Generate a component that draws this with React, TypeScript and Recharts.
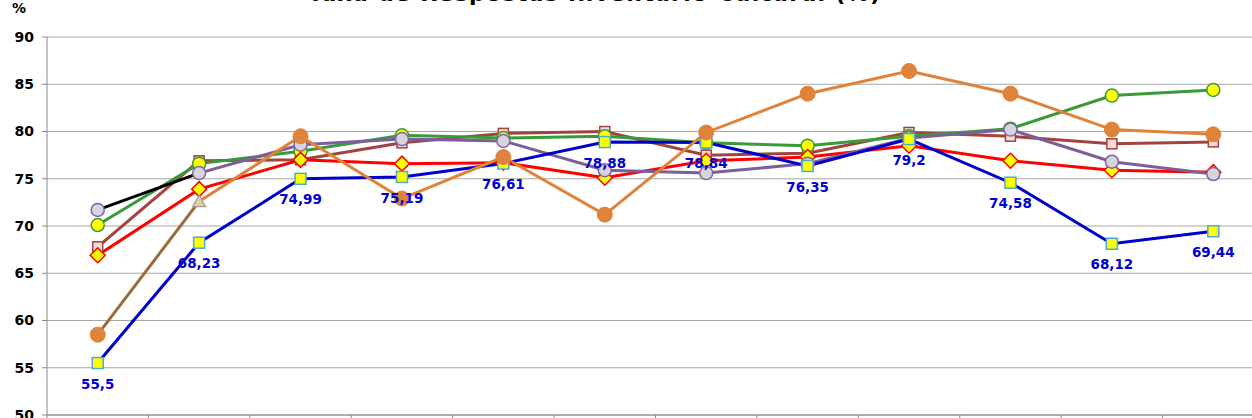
import React from 'react';
import { LineChart, Line, XAxis, YAxis, CartesianGrid, LabelList } from 'recharts';

const categories = ['Jan', 'Fev', 'Mar', 'Abr', 'Mai', 'Jun', 'Jul', 'Ago', 'Set', 'Out', 'Nov', 'Dez'];
const blueValues = [55.5, 68.23, 74.99, 75.19, 76.61, 78.88, 78.84, 76.35, 79.2, 74.58, 68.12, 69.44];
const redValues = [66.9, 73.9, 77.0, 76.6, 76.7, 75.1, 76.9, 77.3, 78.5, 76.9, 75.9, 75.7];
const greenValues = [70.1, 76.6, 77.9, 79.6, 79.3, 79.5, 78.8, 78.5, 79.5, 80.3, 83.8, 84.4];
const brownValues = [67.8, 76.9, 77.0, 78.8, 79.8, 80.0, 77.5, 77.7, 79.9, 79.5, 78.7, 78.9];
const purpleValues = [71.7, 75.6, 78.6, 79.2, 79.0, 75.9, 75.6, 76.6, 79.3, 80.2, 76.8, 75.5];
const orangeValues = [58.5, 72.6, 79.5, 72.9, 77.3, 71.2, 79.9, 84.0, 86.4, 84.0, 80.2, 79.7];
const yTicks = [50, 55, 60, 65, 70, 75, 80, 85, 90];
const titleText = 'Taxa de Respostas Inventário Cultural (%)';
const unitLabel = '%';

const data = categories.map((cat, i) => ({
  x: i,
  cat,
  blue: blueValues[i],
  red: redValues[i],
  green: greenValues[i],
  brown: brownValues[i],
  purple: i === 0 ? null : purpleValues[i],
  purpleLead: i <= 1 ? purpleValues[i] : null,
  orange: i === 0 ? null : orangeValues[i],
  orangeLead: i <= 1 ? orangeValues[i] : null,
}));

const boundaryTicks = categories.map((_, i) => i - 0.5).concat([categories.length - 0.5]);

const FONT = '"DejaVu Sans", Verdana, sans-serif';

type Shape = 'square' | 'circle' | 'diamond' | 'triangle';

function drawShape(shape: Shape, key: string, cx: number, cy: number, size: number, fill: string, stroke: string, sw: number) {
  const h = size / 2;
  if (shape === 'square') {
    return <rect key={key} x={cx - h} y={cy - h} width={size} height={size} fill={fill} stroke={stroke} strokeWidth={sw} />;
  }
  if (shape === 'circle') {
    return <circle key={key} cx={cx} cy={cy} r={h} fill={fill} stroke={stroke} strokeWidth={sw} />;
  }
  if (shape === 'diamond') {
    return (
      <polygon
        key={key}
        points={`${cx},${cy - h} ${cx + h},${cy} ${cx},${cy + h} ${cx - h},${cy}`}
        fill={fill}
        stroke={stroke}
        strokeWidth={sw}
      />
    );
  }
  return (
    <polygon
      key={key}
      points={`${cx},${cy - h} ${cx + h},${cy + h * 0.8} ${cx - h},${cy + h * 0.8}`}
      fill={fill}
      stroke={stroke}
      strokeWidth={sw}
    />
  );
}

function makeDot(name: string, shape: Shape, size: number, fill: string, stroke: string, sw: number, show?: (i: number) => boolean) {
  return (props: any) => {
    const { cx, cy, index, value } = props;
    const key = `${name}-dot-${index}`;
    if (cx == null || cy == null || value == null || (show && !show(index))) return <g key={key} />;
    return drawShape(shape, key, cx, cy, size, fill, stroke, sw);
  };
}

const orangeLeadDot = (props: any) => {
  const { cx, cy, index, value } = props;
  const key = `orangeLead-dot-${index}`;
  if (cx == null || cy == null || value == null) return <g key={key} />;
  if (index === 0) return drawShape('circle', key, cx, cy, 15, '#E0833A', '#E0833A', 1);
  return drawShape('triangle', key, cx, cy, 13, '#DCCFB6', '#A89C86', 1.2);
};

export default function App() {
  return (
    <div style={{ position: 'absolute', left: 0, top: 0, width: 1252, height: 418, overflow: 'hidden', background: '#fff' }}>
      <svg width={1252} height={20} style={{ position: 'absolute', left: 0, top: 0 }}>
        <text
          x={308}
          y={1}
          textLength={572}
          lengthAdjust="spacing"
          fontFamily={FONT}
          fontWeight="bold"
          fontSize={22}
          fill="#000"
        >
          {titleText}
        </text>
        <text x={12} y={13} fontFamily={FONT} fontWeight="bold" fontSize={14} fill="#000">
          {unitLabel}
        </text>
      </svg>
      <div style={{ position: 'absolute', left: 0, top: 0 }}>
        <LineChart width={1290} height={450} data={data} margin={{ top: 37, right: 26, left: 0, bottom: 5 }}>
          <CartesianGrid vertical={false} stroke="#A6A6A6" strokeWidth={1} />
          <XAxis
            type="number"
            dataKey="x"
            domain={[-0.5, categories.length - 0.5]}
            ticks={boundaryTicks}
            interval={0}
            tickFormatter={() => ''}
            tickSize={6}
            height={30}
            axisLine={{ stroke: '#888888' }}
            tickLine={{ stroke: '#888888' }}
          />
          <YAxis
            domain={[50, 90]}
            ticks={yTicks}
            interval={0}
            width={47}
            tickSize={5}
            tickMargin={8}
            axisLine={{ stroke: '#888888' }}
            tickLine={{ stroke: '#888888' }}
            tick={{ fill: '#000', fontSize: 14, fontWeight: 'bold', fontFamily: FONT }}
          />
          <Line
            dataKey="brown"
            type="linear"
            stroke="#A3433E"
            strokeWidth={3}
            isAnimationActive={false}
            dot={makeDot('brown', 'square', 10, '#F2DCDB', '#A3433E', 1.5)}
            activeDot={false}
          />
          <Line
            dataKey="green"
            type="linear"
            stroke="#3A9A3A"
            strokeWidth={3}
            isAnimationActive={false}
            dot={makeDot('green', 'circle', 13, '#FFFF00', '#3A9A3A', 1.5)}
            activeDot={false}
          />
          <Line
            dataKey="red"
            type="linear"
            stroke="#FF0000"
            strokeWidth={3}
            isAnimationActive={false}
            dot={makeDot('red', 'diamond', 15, '#FFFF00', '#FF0000', 1.5)}
            activeDot={false}
          />
          <Line
            dataKey="purpleLead"
            type="linear"
            stroke="#000000"
            strokeWidth={3}
            isAnimationActive={false}
            dot={makeDot('purpleLead', 'circle', 13, '#D6D4DE', '#8064A2', 1.5, (i) => i === 0)}
            activeDot={false}
          />
          <Line
            dataKey="purple"
            type="linear"
            stroke="#7B5E9B"
            strokeWidth={3}
            isAnimationActive={false}
            dot={makeDot('purple', 'circle', 13, '#D6D4DE', '#8064A2', 1.5)}
            activeDot={false}
          />
          <Line
            dataKey="blue"
            type="linear"
            stroke="#0000CC"
            strokeWidth={3}
            isAnimationActive={false}
            dot={makeDot('blue', 'square', 11, '#FFFF00', '#4BACC6', 1.5)}
            activeDot={false}
          />
          <Line
            dataKey="orange"
            type="linear"
            stroke="#E0833A"
            strokeWidth={3}
            isAnimationActive={false}
            dot={makeDot('orange', 'circle', 15, '#E0833A', '#E0833A', 1, (i) => i >= 2)}
            activeDot={false}
          />
          <Line
            dataKey="orangeLead"
            type="linear"
            stroke="#9C6A3A"
            strokeWidth={3}
            isAnimationActive={false}
            dot={orangeLeadDot}
            activeDot={false}
          />
          <Line
            dataKey="blue"
            type="linear"
            stroke="none"
            isAnimationActive={false}
            dot={false}
            activeDot={false}
          >
            <LabelList
              dataKey="blue"
              position="bottom"
              offset={16}
              formatter={(v: any) => String(v).replace('.', ',')}
              fill="#0000CC"
              fontSize={13.5}
              fontWeight="bold"
              fontFamily={FONT}
            />
          </Line>
        </LineChart>
      </div>
    </div>
  );
}
